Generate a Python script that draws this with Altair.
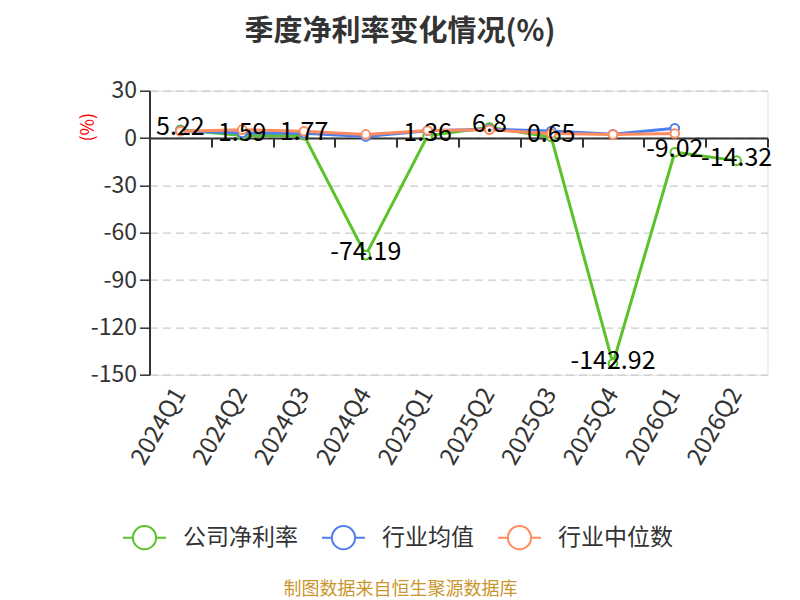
import altair as alt
import pandas as pd

quarters = ["2024Q1", "2024Q2", "2024Q3", "2024Q4", "2025Q1", "2025Q2",
            "2025Q3", "2025Q4", "2026Q1", "2026Q2"]
company = [5.22, 1.59, 1.77, -74.19, 1.36, 6.8, 0.65, -142.92, -9.02, -14.32]
ind_mean = [4.6, 3.2, 3.0, 1.0, 4.6, 5.6, 4.4, 2.4, 6.2, None]
ind_median = [4.3, 5.3, 4.3, 2.3, 4.8, 5.2, 2.9, 2.2, 2.9, None]

series_names = ["公司净利率", "行业均值", "行业中位数"]
series_colors = ["#5bc22a", "#4f7fef", "#ff8c5f"]
y_ticks = [-150, -120, -90, -60, -30, 0, 30]

rows = []
for name, vals in zip(series_names, [company, ind_mean, ind_median]):
    for q, v in zip(quarters, vals):
        if v is not None:
            rows.append({"quarter": q, "series": name, "value": v})
df = pd.DataFrame(rows)

W, H = 618, 284
FONT = "Noto Sans CJK SC"
zero_off = -(H * 150 / 180)

xscale = alt.Scale(type="band", domain=quarters, paddingInner=0, paddingOuter=0)
yscale = alt.Scale(domain=[-150, 30], nice=False, zero=False)
cscale = alt.Scale(domain=series_names, range=series_colors)

legend_path = ("M-1,0H-0.54 M0.54,0H1 M0.54,0A0.54,0.54 0 1,1 -0.54,0"
               "A0.54,0.54 0 1,1 0.54,0")

base = alt.Chart(df)

axis_zero = alt.Axis(orient="bottom", offset=zero_off, labels=False, title=None,
                     tickBand="extent", ticks=True, tickSize=9, tickWidth=2,
                     tickColor="#333333", domainColor="#333333", domainWidth=2,
                     grid=False)
axis_labels = alt.Axis(orient="bottom", domain=False, ticks=False, grid=False,
                       labelAngle=-60, labelAlign="right", labelBaseline="middle",
                       labelFontSize=24, labelColor="#333333", labelPadding=15,
                       labelFont=FONT,
                       title="制图数据来自恒生聚源数据库", titleFont=FONT,
                       titleFontSize=18, titleFontWeight="normal",
                       titleColor="#c9962e", titleAngle=0, titleX=250.5,
                       titleY=215, titleAlign="center", titleBaseline="middle")
axis_y = alt.Axis(values=y_ticks, grid=True, gridColor="#cccccc", gridDash=[8, 5],
                  gridWidth=1.2, labelFontSize=23, labelColor="#333333",
                  labelFont=FONT, labelExpr="'' + datum.value",
                  domainColor="#333333", domainWidth=2, tickColor="#333333",
                  tickSize=10, tickWidth=1.5, labelPadding=3,
                  title="(%)", titleColor="red", titleFontSize=18,
                  titleFontWeight="normal", titleFont=FONT, titleX=-61, titleY=36,
                  titleAlign="center", titleBaseline="middle", titleAngle=-90)

color_legend = alt.Legend(
    orient="none", legendX=-27.5, legendY=424,
    direction="horizontal", title=None,
    symbolType=legend_path, symbolSize=1849,
    symbolStrokeWidth=2, symbolFillColor="white",
    labelFontSize=23, labelColor="#333333", labelFont=FONT,
    labelOffset=16, columnPadding=20,
)

layers = []
for i, name in enumerate(series_names):
    sub = base.transform_filter(alt.datum.series == name)
    line = sub.mark_line(strokeWidth=3).encode(
        x=alt.X("quarter:N", scale=xscale, bandPosition=0.5,
                axis=axis_zero if i == 0 else None),
        y=alt.Y("value:Q", scale=yscale, axis=axis_y),
        color=alt.Color("series:N", scale=cscale, legend=color_legend),
    )
    pts = sub.mark_point(shape="circle", filled=False, fill="white",
                         fillOpacity=1, size=75, strokeWidth=2, opacity=1).encode(
        x=alt.X("quarter:N", scale=xscale, bandPosition=0.5, axis=None),
        y=alt.Y("value:Q", scale=yscale, axis=axis_y),
        color=alt.Color("series:N", scale=cscale, legend=color_legend),
    )
    layers += [line, pts]

labels = base.transform_filter(alt.datum.series == series_names[0]).transform_calculate(
    lbl="'' + datum.value"
).mark_text(fontSize=25, color="black", baseline="middle", dy=-3, font=FONT).encode(
    x=alt.X("quarter:N", scale=xscale, bandPosition=0.5, axis=axis_labels),
    y=alt.Y("value:Q", scale=yscale, axis=axis_y),
    text="lbl:N",
)
layers.append(labels)

chart = alt.layer(*layers).resolve_axis(x="independent").properties(
    width=W, height=H,
    autosize=alt.AutoSizeParams(type="none"),
    padding={"left": 141.5, "top": 82.7, "right": 24, "bottom": 225.3},
    title=alt.TitleParams("季度净利率变化情况(%)", anchor="middle", frame="group",
                          fontSize=29, fontWeight="bold", color="#333333",
                          font=FONT, dx=-58.5, offset=33),
).configure_view(strokeWidth=0).configure(font=FONT)

chart.save("out.html", embed_options={"renderer": "svg", "actions": False})
